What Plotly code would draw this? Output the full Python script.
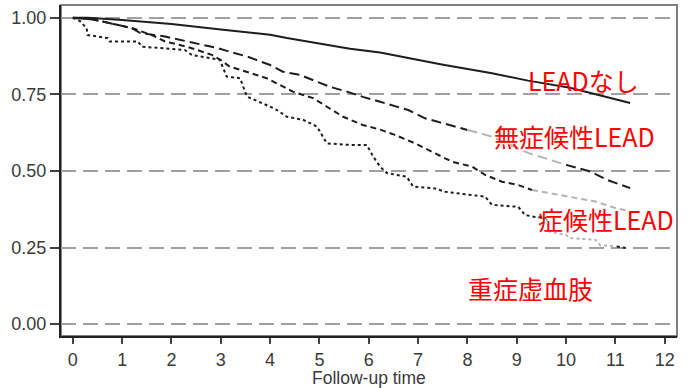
import plotly.graph_objects as go

# ---- data ----
t_none = [0, 0.3, 1, 2, 3, 4, 4.34, 5, 5.62, 6.23, 7.48, 8.5, 9.23, 10.08, 10.62, 11.3]
s_none = [1.0, 1.0, 0.993, 0.98, 0.962, 0.945, 0.934, 0.917, 0.899, 0.887, 0.848, 0.819, 0.795, 0.772, 0.75, 0.722]

t_asym = [0, 0.4, 1.19, 1.36, 1.87, 2.33, 2.94, 3.25, 3.53, 4.0, 4.26, 4.6, 4.87, 5.21, 5.56, 5.88,
          6.23, 6.8, 7.14, 7.48, 8.0, 8.5, 9.23, 10.0, 10.5, 10.83, 11.3]
s_asym = [1.0, 0.995, 0.967, 0.951, 0.939, 0.923, 0.901, 0.886, 0.874, 0.846, 0.824, 0.814, 0.797, 0.775, 0.759, 0.742,
          0.726, 0.699, 0.672, 0.656, 0.634, 0.612, 0.559, 0.52, 0.498, 0.471, 0.444]

t_sym = [0, 0.4, 1.19, 1.6, 1.87, 2.33, 2.82, 3.0, 3.18, 3.53, 3.93, 4.2, 4.46, 4.87, 5.15, 5.48, 5.88, 6.23,
         6.53, 6.94, 7.28, 7.69, 8.1, 8.36, 8.7, 9.03, 9.31, 9.94, 10.6, 11.0, 11.25]
s_sym = [1.0, 0.995, 0.967, 0.944, 0.923, 0.905, 0.879, 0.862, 0.841, 0.824, 0.803, 0.781, 0.759, 0.738, 0.71, 0.677, 0.65, 0.635,
         0.618, 0.59, 0.563, 0.53, 0.514, 0.487, 0.465, 0.454, 0.438, 0.42, 0.40, 0.379, 0.37]

t_cli = [0, 0.14, 0.28, 0.3, 0.71, 0.75, 1.32, 1.4, 2.27, 2.41, 2.98, 3.12, 3.39, 3.45, 3.53, 4.0, 4.14,
         4.34, 4.67, 4.95, 5.15, 5.62, 5.96, 6.09, 6.23, 6.37, 6.77, 6.9, 7.34, 7.55, 8.36, 8.5, 9.03,
         9.17, 9.37, 9.6, 9.67, 10.0, 10.08, 10.6, 10.69, 11.03, 11.24]
s_cli = [1.0, 0.99, 0.966, 0.944, 0.934, 0.923, 0.923, 0.906, 0.895, 0.879, 0.863, 0.808, 0.803, 0.775, 0.743, 0.71, 0.699,
         0.677, 0.667, 0.645, 0.59, 0.585, 0.585, 0.547, 0.514, 0.493, 0.481, 0.449, 0.443, 0.432, 0.416, 0.389, 0.383,
         0.356, 0.35, 0.346, 0.302, 0.291, 0.281, 0.275, 0.258, 0.253, 0.248]

labels = ["LEADなし", "無症候性LEAD", "症候性LEAD", "重症虚血肢"]
x_ticks = list(range(0, 13))
y_ticks = [0, 0.25, 0.5, 0.75, 1.0]
x_title = "Follow-up time"

DARK = "#1e1e1e"
GRAY = "#b4b4b4"

fig = go.Figure()


def add_segments(t, s, dash, gray_lo=None, gray_hi=None, width=2):
    """Split a curve into dark / light-gray / dark pieces by time range."""
    if gray_lo is None:
        fig.add_trace(go.Scatter(x=t, y=s, mode="lines",
                                 line=dict(color=DARK, width=width, dash=dash),
                                 showlegend=False, hoverinfo="skip"))
        return
    i0 = t.index(gray_lo)
    i1 = t.index(gray_hi)
    pieces = [(0, i0, DARK), (i0, i1, GRAY), (i1, len(t) - 1, DARK)]
    for a, b, col in pieces:
        if b <= a:
            continue
        fig.add_trace(go.Scatter(x=t[a:b + 1], y=s[a:b + 1], mode="lines",
                                 line=dict(color=col, width=width, dash=dash),
                                 showlegend=False, hoverinfo="skip"))


add_segments(t_none, s_none, "solid")
add_segments(t_asym, s_asym, "10px,5px", 8.0, 10.0)
add_segments(t_sym, s_sym, "6px,4px", 9.31, 11.25)
add_segments(t_cli, s_cli, "3px,3px", 9.6, 11.03)

# Labels (red, Japanese)
label_pos = [(9.21, 0.797), (8.52, 0.614), (9.41, 0.343), (7.99, 0.118)]
for txt, (lx, ly) in zip(labels, label_pos):
    fig.add_annotation(x=lx, y=ly, text=txt, showarrow=False, xanchor="left", yanchor="middle",
                       borderpad=0, font=dict(family="Noto Sans CJK JP", size=25, color="#ff0000"))

# x-axis title
fig.add_annotation(x=0.5, y=-0.1269, xref="paper", yref="paper", text=x_title, showarrow=False,
                   xanchor="center", yanchor="middle", borderpad=0, font=dict(size=17.5, color="#3a3a3a"))

# gray frame (top/right)
fig.add_shape(type="rect", xref="paper", yref="paper", x0=0, y0=0, x1=1, y1=1,
              line=dict(color="#808080", width=2), layer="below")

fig.update_layout(
    width=698, height=388,
    margin=dict(l=61, r=21, t=5, b=52, autoexpand=False),
    paper_bgcolor="white", plot_bgcolor="white",
    font=dict(family="Liberation Sans, Arial", size=18, color="#3a3a3a"),
    xaxis=dict(range=[-0.24, 12.25], tickvals=x_ticks, ticks="outside", ticklen=6, tickwidth=2,
               tickcolor="#444", showgrid=False, zeroline=False, showline=True, linecolor="#222",
               linewidth=2, automargin=False),
    yaxis=dict(range=[-0.039, 1.042], tickvals=y_ticks, tickformat=".2f", ticks="outside", ticklen=9,
               tickwidth=2, tickcolor="#444", showgrid=True, gridcolor="#a0a0a0", gridwidth=2,
               griddash="15px,7px", zeroline=False, showline=True, linecolor="#222", linewidth=2,
               automargin=False),
)

fig.write_html("out.html", config={"displayModeBar": False},
               post_script="document.body.style.margin='0';document.body.style.overflow='hidden';")
